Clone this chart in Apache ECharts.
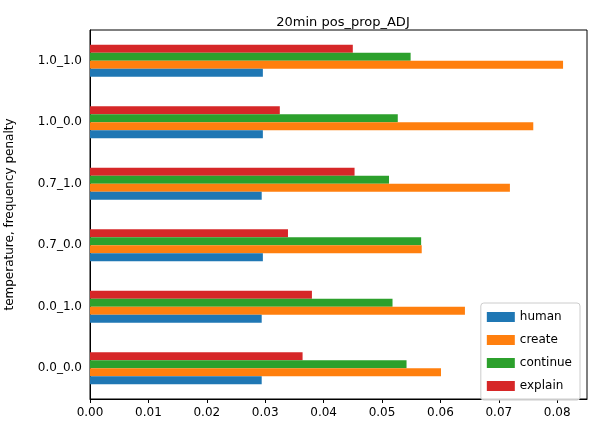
<!DOCTYPE html>
<html lang="en">
<head>
<meta charset="UTF-8">
<title>20min pos_prop_ADJ</title>
<script src="https://cdn.jsdelivr.net/npm/echarts@6/dist/echarts.min.js"></script>
<style>body{margin:0}#c{width:596px;height:433px}</style>
</head>
<body>
<div id="c"></div>
<script>
var categories = ['0.0_0.0', '0.0_1.0', '0.7_0.0', '0.7_1.0', '1.0_0.0', '1.0_1.0'];
var human    = [0.0294, 0.0294, 0.0296, 0.0294, 0.0296, 0.0296];
var create   = [0.0601, 0.0642, 0.0568, 0.0719, 0.0759, 0.0810];
var cont     = [0.0542, 0.0518, 0.0567, 0.0512, 0.0527, 0.0549];
var explain  = [0.0364, 0.0380, 0.0339, 0.0453, 0.0325, 0.0450];
var legendNames = ['human', 'create', 'continue', 'explain'];

var chart = echarts.init(document.getElementById('c'));
var font = 'DejaVu Sans';
function bar(name, data, color) {
    return {name: name, type: 'bar', data: data, barGap: 0, barCategoryGap: '48%',
        itemStyle: {color: color}};
}
chart.setOption({
    animation: false,
    textStyle: {fontFamily: font},
    title: {text: '20min pos_prop_ADJ', left: 338, top: 11, textAlign: 'center',
        textStyle: {fontSize: 13, fontWeight: 'normal', color: '#000', fontFamily: font}},
    legend: {data: legendNames, orient: 'vertical', right: 16, top: 303, icon: 'rect',
        itemWidth: 28, itemHeight: 10, itemGap: 11,
        padding: [8, 8, 8, 6], borderColor: '#ccc', borderWidth: 1, borderRadius: 3,
        backgroundColor: 'rgba(255,255,255,0.8)',
        textStyle: {fontSize: 12, color: '#000', fontFamily: font}},
    grid: {left: 90, right: 9, top: 30, bottom: 34, containLabel: false, outerBoundsMode: 'none'},
    xAxis: {type: 'value', min: 0, max: 0.0851, interval: 0.01,
        axisLine: {show: true, lineStyle: {color: '#000'}},
        axisTick: {show: true, length: 4, lineStyle: {color: '#000'}},
        splitLine: {show: false},
        axisLabel: {color: '#000', fontSize: 12, fontFamily: font, showMaxLabel: false,
            formatter: function (v) { return v.toFixed(2); }}},
    yAxis: {type: 'category', data: categories, name: 'temperature, frequency penalty',
        nameLocation: 'middle', nameGap: 74, nameTextStyle: {fontSize: 12, color: '#000', fontFamily: font},
        axisLine: {lineStyle: {color: '#000'}},
        axisTick: {alignWithLabel: true, length: 4, lineStyle: {color: '#000'}},
        axisLabel: {color: '#000', fontSize: 12, fontFamily: font}},
    // reversed so human sits at the bottom of each group
    series: [
        bar('explain', explain, '#d62728'),
        bar('continue', cont, '#2ca02c'),
        bar('create', create, '#ff7f0e'),
        bar('human', human, '#1f77b4')
    ],
    graphic: [{type: 'rect', shape: {x: 90, y: 30, width: 497, height: 369},
        style: {fill: 'none', stroke: '#000', lineWidth: 1}, silent: true}]
});
</script>
</body>
</html>
